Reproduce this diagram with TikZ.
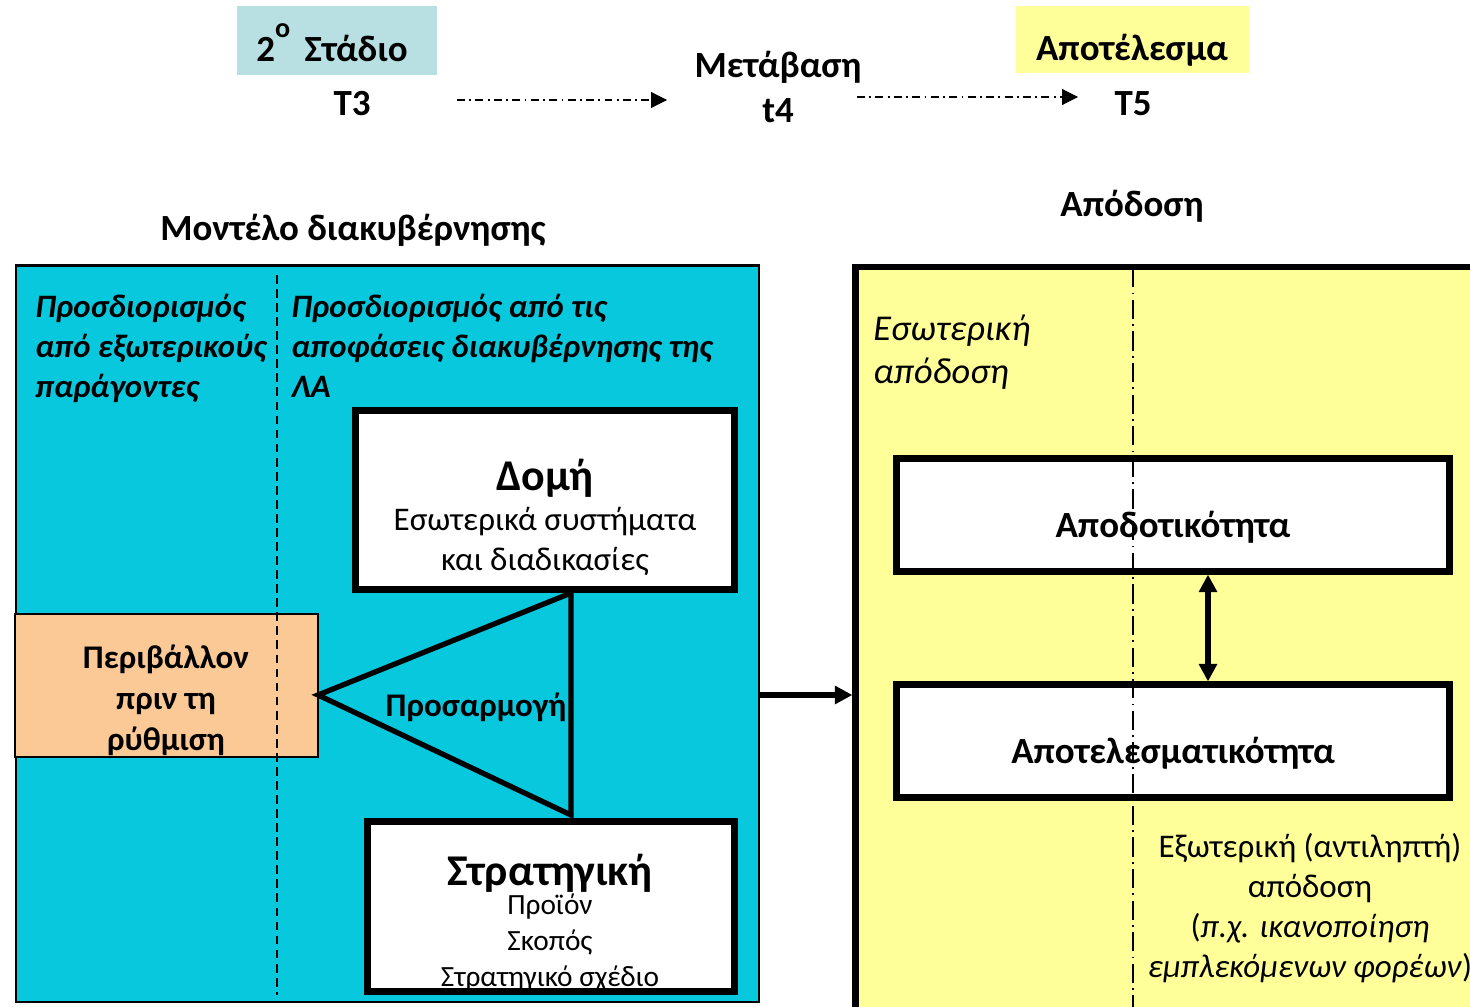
\documentclass[tikz,border=0pt]{standalone}
\usepackage{fontspec}
\setmainfont{Carlito}
\usetikzlibrary{arrows.meta,positioning}
\definecolor{stagecol}{RGB}{184,224,227}
\definecolor{resultcol}{RGB}{255,255,153}
\definecolor{modelcol}{RGB}{8,200,222}
\definecolor{envcol}{RGB}{250,201,150}

\begin{document}
\begin{tikzpicture}
[x=0.02cm,y=-0.02cm,>={Triangle[length=9pt,width=9pt]},
boxnode/.style = {draw, line width=3.5pt, fill=white, inner sep=0pt},
headtext/.style = {anchor=base, inner sep=0pt, font=\fontsize{21}{25}\selectfont\bfseries},
colhead/.style = {anchor=base west, align=left, inner sep=0pt, font=\fontsize{18.6}{22.7}\selectfont\bfseries\itshape},
boxtitle/.style = {anchor=base, inner sep=0pt, font=\fontsize{25}{30}\selectfont\bfseries},
boxbody/.style = {anchor=base, align=center, inner sep=0pt, font=\fontsize{18.8}{22.7}\selectfont},
boldbody/.style = {boxbody, font=\fontsize{18.8}{23.3}\selectfont\bfseries},
flowline/.style = {dash pattern=on 4.5pt off 2.5pt on 1pt off 2.5pt, line width=0.6pt},
splitline/.style = {dash pattern=on 5pt off 3pt, line width=0.9pt},
axisline/.style = {dash pattern=on 11pt off 3pt on 1pt off 3pt, line width=0.8pt},
bigarrow/.style = {line width=3pt, >={Triangle[length=10pt,width=10pt]}},]
\useasboundingbox (0,0) rectangle (1470,1007);

\node (stage) at (337,40.5)[fill=stagecol, minimum width=4cm, minimum height=1.38cm] {};
\node (result) at (1132.5,39.5)[fill=resultcol, minimum width=4.66cm, minimum height=1.34cm] {};
\node (stagetext) at (332,62)[headtext] {2\raisebox{14pt}{\fontsize{16}{16}\selectfont o}\, Στάδιο};
\node (T3) at (352,115)[headtext] {T3};
\node (trans) at (778,78)[headtext] {Μετάβαση};
\node (t4) at (778,122)[headtext] {t4};
\node (resulttext) at (1132,61)[headtext] {Αποτέλεσμα};
\node (T5) at (1133,115)[headtext] {T5};
\coordinate (go1) at (457,100);
\coordinate (to1) at (667,100);
\coordinate (go2) at (857,97);
\coordinate (to2) at (1078,97);
\draw[flowline,->] (go1)--(to1);
\draw[flowline,->] (go2)--(to2);

\node (modeltitle) at (353,240)[headtext] {Μοντέλο διακυβέρνησης};
\node (perftitle) at (1132,216)[headtext] {Απόδοση};

\node (model) at (387.5,633.75)[draw, fill=modelcol, line width=1.5pt, minimum width=14.86cm, minimum height=14.73cm] {};
\node (env) at (166.5,685.5)[draw, fill=envcol, line width=1pt, minimum width=6.06cm, minimum height=2.86cm] {};
\node (perf) at (1173,648.5)[draw, fill=resultcol, line width=3.6pt, minimum width=12.7cm, minimum height=15.27cm] {};

\node (dom) at (545,500)[boxnode, minimum width=7.58cm, minimum height=3.58cm] {};
\node (strat) at (551,906.5)[boxnode, minimum width=7.34cm, minimum height=3.4cm] {};
\node (eff) at (1173,515)[boxnode, minimum width=11.06cm, minimum height=2.26cm] {};
\node (effect) at (1173,741)[boxnode, minimum width=11.06cm, minimum height=2.26cm] {};

\coordinate (splittop) at (277,275);
\coordinate (splitbot) at (277,995);
\draw[splitline] (splittop)--(splitbot);
\coordinate (axistop) at (1133,268);
\coordinate (axisbot) at (1133,1007);
\draw[axisline] (axistop)--(axisbot);

\node (exthead) at (35,397)[colhead] {Προσδιορισμός\\από εξωτερικούς\\παράγοντες};
\node (govhead) at (291,397)[colhead] {Προσδιορισμός από τις\\αποφάσεις διακυβέρνησης της\\ΛΑ};

\node (domtitle) at (545,490)[boxtitle] {Δομή};
\node (dombody) at (545,570)[boxbody] {Εσωτερικά συστήματα\\και διαδικασίες};
\node (envtext) at (166,750)[boldbody] {Περιβάλλον\\πριν τη\\ρύθμιση};

\coordinate (apex) at (318,695);
\coordinate (adtop) at (571,593);
\coordinate (adbot) at (571,815);
\draw[line width=3pt, line join=miter] (adtop)--(apex)--(adbot)--cycle;
\node (adapt) at (476,716)[boldbody] {Προσαρμογή};

\node (strattitle) at (550,885)[boxtitle] {Στρατηγική};
\node (stratbody) at (550,986)[boxbody, font=\fontsize{16.7}{20.4}\selectfont] {Προϊόν\\Σκοπός\\Στρατηγικό σχέδιο};

\draw[bigarrow,->] (apex -| model.east)--(apex -| perf.west);

\node (inner) at (873,383)[colhead, font=\fontsize{20.7}{24.4}\selectfont\itshape] {Εσωτερική\\απόδοση};
\node (efftext) at (1173,537)[boldbody, font=\fontsize{21}{23}\selectfont\bfseries] {Αποδοτικότητα};
\node (effecttext) at (1173,763)[boldbody, font=\fontsize{21}{23}\selectfont\bfseries] {Αποτελεσματικότητα};
\coordinate (link) at (1208,0);
\draw[bigarrow,<->, line width=3pt] (link |- eff.south)--(link |- effect.north);

\node (outer) at (1310,977)[boxbody] {Εξωτερική (αντιληπτή)\\απόδοση\\(\textit{π.χ. ικανοποίηση}\\\textit{εμπλεκόμενων φορέων})};
\end{tikzpicture}
\end{document}
